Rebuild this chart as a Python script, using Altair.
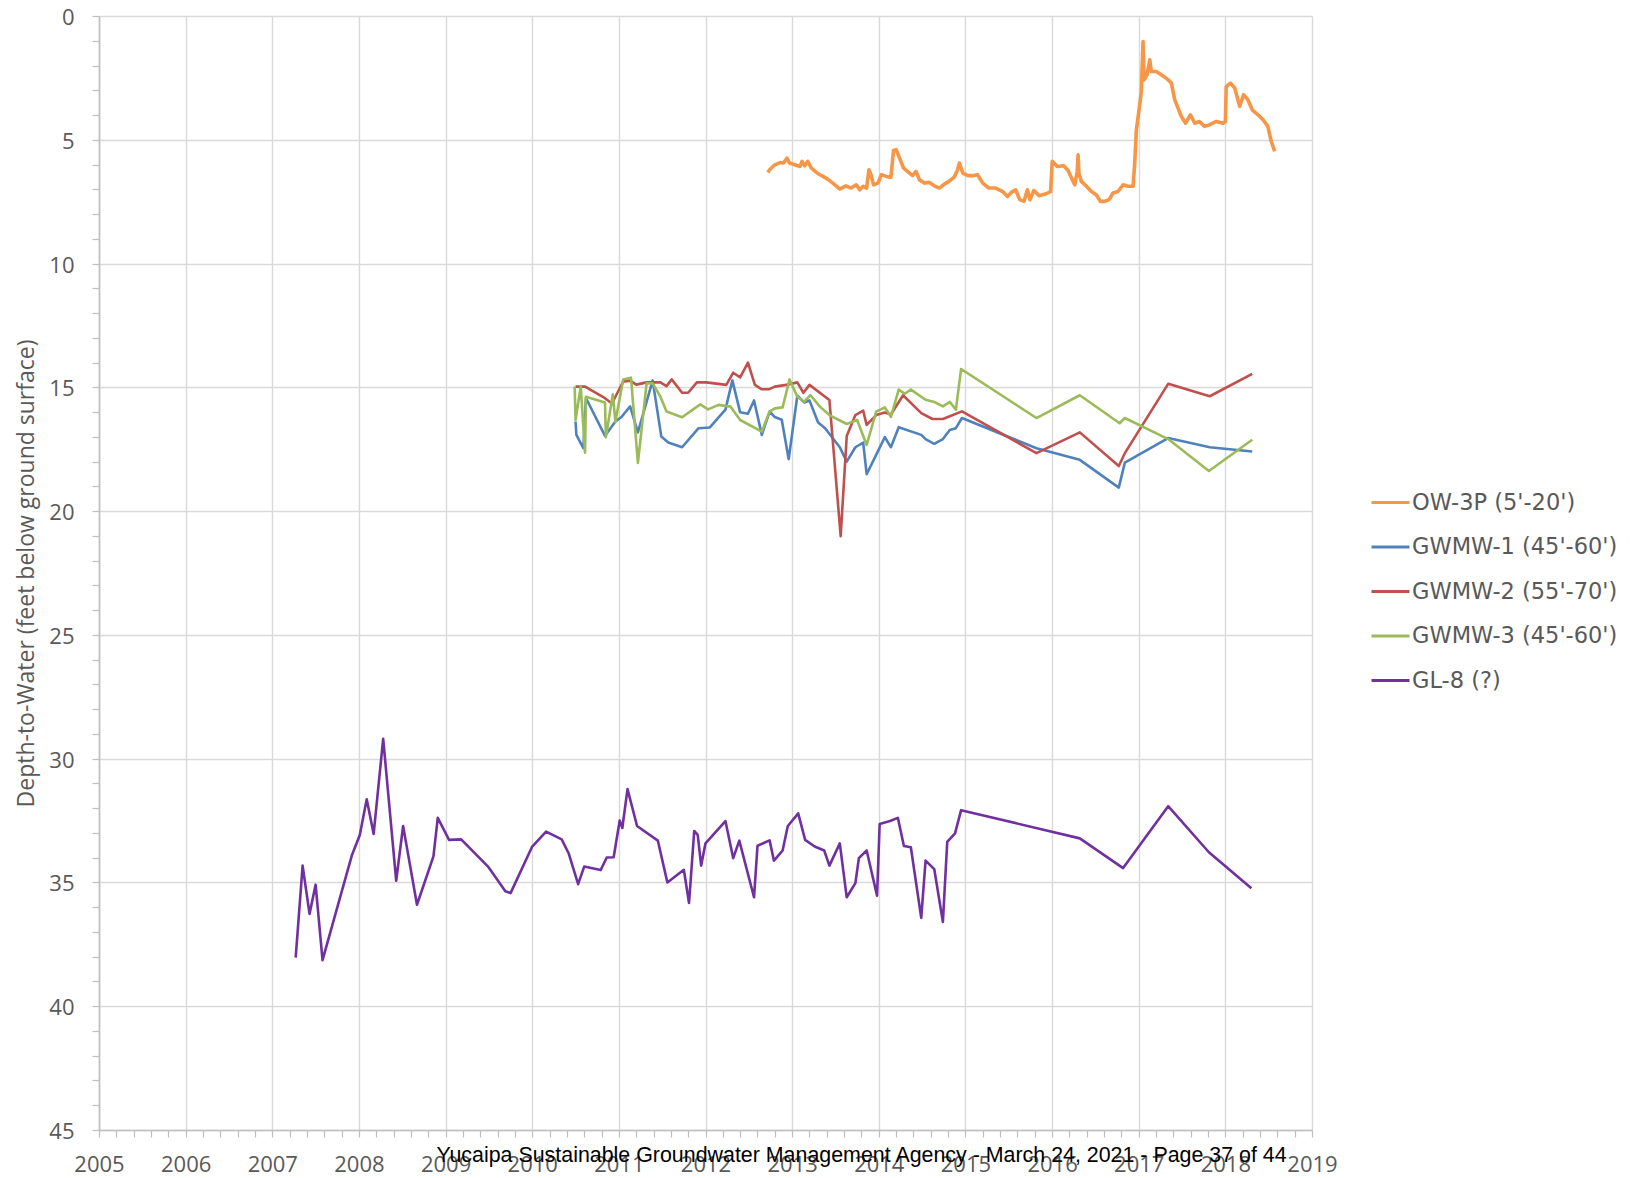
import altair as alt
import pandas as pd

series_names = ["OW-3P (5'-20')", "GWMW-1 (45'-60')", "GWMW-2 (55'-70')", "GWMW-3 (45'-60')", "GL-8 (?)"]
series_colors = ["#F79646", "#4F81BD", "#C0504D", "#9BBB59", "#7030A0"]

ow3p_year = [2012.72, 2012.74, 2012.80, 2012.86, 2012.90, 2012.94, 2012.97, 2013.03, 2013.09, 2013.115,
             2013.145, 2013.18, 2013.22, 2013.28, 2013.34, 2013.41, 2013.47, 2013.55, 2013.62, 2013.68,
             2013.74, 2013.78, 2013.82, 2013.86, 2013.886, 2013.91, 2013.94, 2013.99, 2014.03, 2014.085,
             2014.14, 2014.17, 2014.20, 2014.24, 2014.285, 2014.33, 2014.39, 2014.43, 2014.47, 2014.53,
             2014.58, 2014.64, 2014.70, 2014.76, 2014.81, 2014.87, 2014.91, 2014.93, 2014.97, 2015.03,
             2015.08, 2015.14, 2015.20, 2015.27, 2015.35, 2015.43, 2015.485, 2015.54, 2015.58, 2015.627,
             2015.676, 2015.715, 2015.745, 2015.79, 2015.85, 2015.93, 2015.983, 2016.002, 2016.06, 2016.135,
             2016.185, 2016.235, 2016.262, 2016.29, 2016.30, 2016.31, 2016.338, 2016.396, 2016.454, 2016.51,
             2016.558, 2016.608, 2016.658, 2016.704, 2016.76, 2016.82, 2016.877, 2016.935, 2016.954, 2016.973,
             2017.004, 2017.03, 2017.05, 2017.062, 2017.096, 2017.127, 2017.146, 2017.204, 2017.28, 2017.34,
             2017.377, 2017.415, 2017.454, 2017.492, 2017.542, 2017.596, 2017.646, 2017.70, 2017.76, 2017.82,
             2017.896, 2017.973, 2018.00, 2018.01, 2018.058, 2018.108, 2018.165, 2018.21, 2018.26, 2018.31,
             2018.377, 2018.435, 2018.49, 2018.53, 2018.57]
ow3p_depth = [6.32, 6.21, 6.01, 5.92, 5.94, 5.74, 5.94, 6.01, 6.08, 5.87,
              6.05, 5.87, 6.14, 6.32, 6.45, 6.59, 6.75, 6.99, 6.86, 6.95,
              6.82, 7.02, 6.88, 6.95, 6.21, 6.41, 6.82, 6.75, 6.41, 6.48,
              6.51, 5.43, 5.40, 5.74, 6.14, 6.28, 6.45, 6.28, 6.62, 6.75,
              6.72, 6.86, 6.95, 6.78, 6.68, 6.51, 6.21, 5.94, 6.35, 6.45,
              6.45, 6.41, 6.75, 6.95, 6.95, 7.09, 7.29, 7.09, 7.02, 7.42,
              7.49, 7.02, 7.42, 7.05, 7.26, 7.18, 7.09, 5.87, 6.08, 6.05,
              6.24, 6.62, 6.82, 6.28, 5.61, 6.35, 6.68, 6.88, 7.09, 7.22,
              7.49, 7.49, 7.42, 7.15, 7.09, 6.82, 6.88, 6.88, 5.94, 4.60,
              3.79, 3.05, 1.03, 2.58, 2.38, 1.77, 2.24, 2.24, 2.42, 2.58,
              2.71, 3.38, 3.72, 4.06, 4.33, 3.99, 4.33, 4.26, 4.46, 4.39,
              4.26, 4.33, 4.26, 2.85, 2.71, 2.91, 3.65, 3.18, 3.38, 3.79,
              3.99, 4.19, 4.46, 5.07, 5.47]

gwmw1_year = [2010.50, 2010.51, 2010.59, 2010.62, 2010.84, 2010.96, 2011.03, 2011.13, 2011.22, 2011.39,
              2011.49, 2011.57, 2011.73, 2011.92, 2012.05, 2012.23, 2012.31, 2012.40, 2012.49, 2012.56,
              2012.65, 2012.74, 2012.80, 2012.88, 2012.96, 2013.06, 2013.14, 2013.20, 2013.30, 2013.38,
              2013.55, 2013.63, 2013.73, 2013.82, 2013.86, 2014.07, 2014.14, 2014.23, 2014.49, 2014.54,
              2014.64, 2014.74, 2014.82, 2014.89, 2014.96, 2015.82, 2016.32, 2016.77, 2016.84, 2017.34,
              2017.82, 2018.31]
gwmw1_depth = [16.38, 16.92, 17.46, 15.43, 16.96, 16.38, 16.20, 15.77, 16.82, 14.72,
               16.99, 17.23, 17.42, 16.65, 16.62, 15.90, 14.72, 16.01, 16.07, 15.53,
               16.92, 15.98, 16.20, 16.31, 17.90, 15.34, 15.61, 15.53, 16.42, 16.65,
               17.42, 18.00, 17.42, 17.23, 18.51, 17.01, 17.42, 16.61, 16.92, 17.09,
               17.28, 17.09, 16.72, 16.65, 16.24, 17.46, 17.93, 19.05, 18.04, 17.05,
               17.42, 17.59]

gwmw2_year = [2010.50, 2010.61, 2010.84, 2010.92, 2010.96, 2011.05, 2011.13, 2011.20, 2011.32, 2011.48,
              2011.55, 2011.61, 2011.73, 2011.80, 2011.90, 2012.01, 2012.24, 2012.32, 2012.40, 2012.49,
              2012.57, 2012.65, 2012.73, 2012.80, 2012.97, 2013.06, 2013.13, 2013.20, 2013.43, 2013.56,
              2013.63, 2013.73, 2013.82, 2013.86, 2013.97, 2014.07, 2014.14, 2014.28, 2014.49, 2014.62,
              2014.74, 2014.96, 2015.82, 2016.32, 2016.77, 2016.84, 2017.34, 2017.82, 2018.31]
gwmw2_depth = [14.97, 14.97, 15.44, 15.65, 15.38, 14.77, 14.73, 14.89, 14.80, 14.80,
               14.95, 14.68, 15.22, 15.22, 14.80, 14.80, 14.90, 14.41, 14.60, 14.00,
               14.90, 15.08, 15.08, 14.97, 14.88, 14.80, 15.22, 14.90, 15.51, 21.01,
               16.97, 16.12, 15.94, 16.52, 16.12, 16.02, 16.10, 15.32, 16.04, 16.28,
               16.28, 15.97, 17.66, 16.82, 18.18, 17.66, 14.86, 15.36, 14.46]

gwmw3_year = [2010.49, 2010.50, 2010.56, 2010.61, 2010.62, 2010.84, 2010.85, 2010.93, 2010.96, 2011.05,
              2011.14, 2011.22, 2011.32, 2011.39, 2011.48, 2011.55, 2011.73, 2011.94, 2012.03, 2012.15,
              2012.29, 2012.40, 2012.65, 2012.74, 2012.80, 2012.89, 2012.97, 2013.06, 2013.14, 2013.21,
              2013.32, 2013.43, 2013.63, 2013.75, 2013.86, 2013.97, 2014.07, 2014.14, 2014.23, 2014.30,
              2014.37, 2014.54, 2014.64, 2014.74, 2014.82, 2014.89, 2014.95, 2015.82, 2016.32, 2016.78,
              2016.84, 2017.34, 2017.81, 2018.31]
gwmw3_depth = [14.97, 16.32, 14.97, 17.64, 15.38, 15.61, 17.02, 15.28, 16.39, 14.68,
               14.61, 18.05, 14.84, 14.84, 15.38, 15.98, 16.21, 15.69, 15.89, 15.71,
               15.78, 16.32, 16.79, 15.98, 15.85, 15.81, 14.68, 15.38, 15.58, 15.31,
               15.78, 16.12, 16.48, 16.32, 17.33, 15.98, 15.81, 16.19, 15.09, 15.26,
               15.09, 15.50, 15.59, 15.77, 15.59, 15.90, 14.26, 16.24, 15.32, 16.45,
               16.24, 17.09, 18.38, 17.12]

gl8_year = [2007.27, 2007.35, 2007.43, 2007.50, 2007.58, 2007.92, 2008.01, 2008.09, 2008.17, 2008.28,
            2008.43, 2008.51, 2008.67, 2008.86, 2008.91, 2009.04, 2009.18, 2009.49, 2009.69, 2009.75,
            2010.00, 2010.16, 2010.34, 2010.42, 2010.53, 2010.60, 2010.79, 2010.86, 2010.94, 2011.01,
            2011.04, 2011.10, 2011.21, 2011.45, 2011.56, 2011.75, 2011.81, 2011.87, 2011.91, 2011.95,
            2012.00, 2012.23, 2012.32, 2012.39, 2012.56, 2012.60, 2012.74, 2012.79, 2012.89, 2012.95,
            2013.07, 2013.15, 2013.26, 2013.37, 2013.43, 2013.55, 2013.63, 2013.73, 2013.77, 2013.86,
            2013.98, 2014.01, 2014.13, 2014.22, 2014.29, 2014.37, 2014.49, 2014.54, 2014.64, 2014.74,
            2014.79, 2014.88, 2014.95, 2016.32, 2016.82, 2017.34, 2017.81, 2018.30]
gl8_depth = [38.04, 34.32, 36.27, 35.09, 38.14, 33.89, 33.08, 31.64, 33.04, 29.20,
             34.93, 32.72, 35.90, 33.95, 32.39, 33.28, 33.26, 34.36, 35.36, 35.43,
             33.55, 32.95, 33.26, 33.82, 35.07, 34.36, 34.50, 33.99, 33.98, 32.50,
             32.80, 31.23, 32.72, 33.31, 35.00, 34.49, 35.83, 32.92, 33.08, 34.32,
             33.42, 32.52, 34.02, 33.31, 35.60, 33.52, 33.30, 34.12, 33.71, 32.72,
             32.21, 33.28, 33.55, 33.71, 34.32, 33.42, 35.60, 35.03, 34.02, 33.71,
             35.54, 32.64, 32.52, 32.39, 33.53, 33.58, 36.43, 34.12, 34.46, 36.60,
             33.36, 33.02, 32.08, 33.22, 34.42, 31.92, 33.78, 35.23]

x_ticks = [round(2005 + i * 0.2, 1) for i in range(71)]
y_ticks = list(range(0, 46))

footer = "Yucaipa Sustainable Groundwater Management Agency - March 24, 2021 - Page 37 of 44"
y_title = "Depth-to-Water (feet below ground surface)"

all_years = [ow3p_year, gwmw1_year, gwmw2_year, gwmw3_year, gl8_year]
all_depths = [ow3p_depth, gwmw1_depth, gwmw2_depth, gwmw3_depth, gl8_depth]
widths = [3.6, 2.6, 2.6, 2.6, 2.6]

PLOT_W = 1213
PLOT_H = 1114

x_enc = alt.X(
    "year:Q",
    scale=alt.Scale(domain=[2005, 2019], nice=False, zero=False),
    axis=alt.Axis(
        values=x_ticks,
        title=None,
        labelExpr="abs(datum.value - round(datum.value)) < 0.01 ? format(round(datum.value), 'd') : ''",
        gridOpacity={"condition": {"test": "abs(datum.value - round(datum.value)) < 0.01", "value": 1}, "value": 0},
        labelOverlap=False,
        labelFlush=False,
        tickSize=7,
        labelPadding=17,
        labelFontSize=22,
    ),
)
y_enc = alt.Y(
    "depth:Q",
    scale=alt.Scale(domain=[0, 45], nice=False, zero=False, reverse=True),
    axis=alt.Axis(
        values=y_ticks,
        title=y_title,
        labelExpr="datum.value % 5 === 0 ? format(datum.value, 'd') : ''",
        gridOpacity={"condition": {"test": "datum.value % 5 === 0", "value": 1}, "value": 0},
        labelOverlap=False,
        labelFlush=False,
        labelOffset=1.5,
        tickSize=7,
        labelPadding=18,
        labelFontSize=22,
        titleFontSize=23,
        titleX=-73,
        titleY=PLOT_H / 2,
        titleAngle=270,
        titleAlign="center",
        titleBaseline="middle",
    ),
)
color_enc = alt.Color(
    "series:N",
    scale=alt.Scale(domain=series_names, range=series_colors),
    legend=alt.Legend(
        orient="none",
        legendX=1271,
        legendY=466,
        title=None,
        symbolType="stroke",
        symbolSize=1444,
        symbolStrokeWidth=3,
        labelFont="DejaVu Sans",
        labelFontSize=22.5,
        labelColor="#595959",
        labelLimit=400,
        rowPadding=12.5,
        labelOffset=1,
        padding=0,
    ),
)

layers = []
for name, yrs, ds, w in zip(series_names, all_years, all_depths, widths):
    df = pd.DataFrame({"series": name, "year": yrs, "depth": ds, "idx": list(range(len(yrs)))})
    layers.append(
        alt.Chart(df)
        .mark_line(strokeWidth=w, strokeJoin="round")
        .encode(x=x_enc, y=y_enc, color=color_enc, order="idx:Q")
    )

chart = (
    alt.layer(*layers)
    .properties(
        width=PLOT_W,
        height=PLOT_H,
        autosize=alt.AutoSizeParams(type="none"),
        padding={"left": 91, "top": 8, "right": 310, "bottom": 56},
        title=alt.TitleParams(
            text=footer,
            orient="bottom",
            frame="group",
            anchor="middle",
            baseline="alphabetic",
            offset=6,
            dy=-19,
            dx=156,
            font="Liberation Sans",
            fontSize=21.4,
            fontWeight="normal",
            color="#000000",
        ),
    )
    .configure_view(stroke=None)
    .configure_axis(
        labelFont="Open Sans",
        titleFont="Open Sans",
        labelColor="#595959",
        titleColor="#595959",
        titleFontWeight="normal",
        gridColor="#d9d9d9",
        gridWidth=1.4,
        domainColor="#bfbfbf",
        domainWidth=1.6,
        tickColor="#bfbfbf",
        tickWidth=1.2,
    )
)

chart.save("out.html", embed_options={"renderer": "svg", "actions": False})
